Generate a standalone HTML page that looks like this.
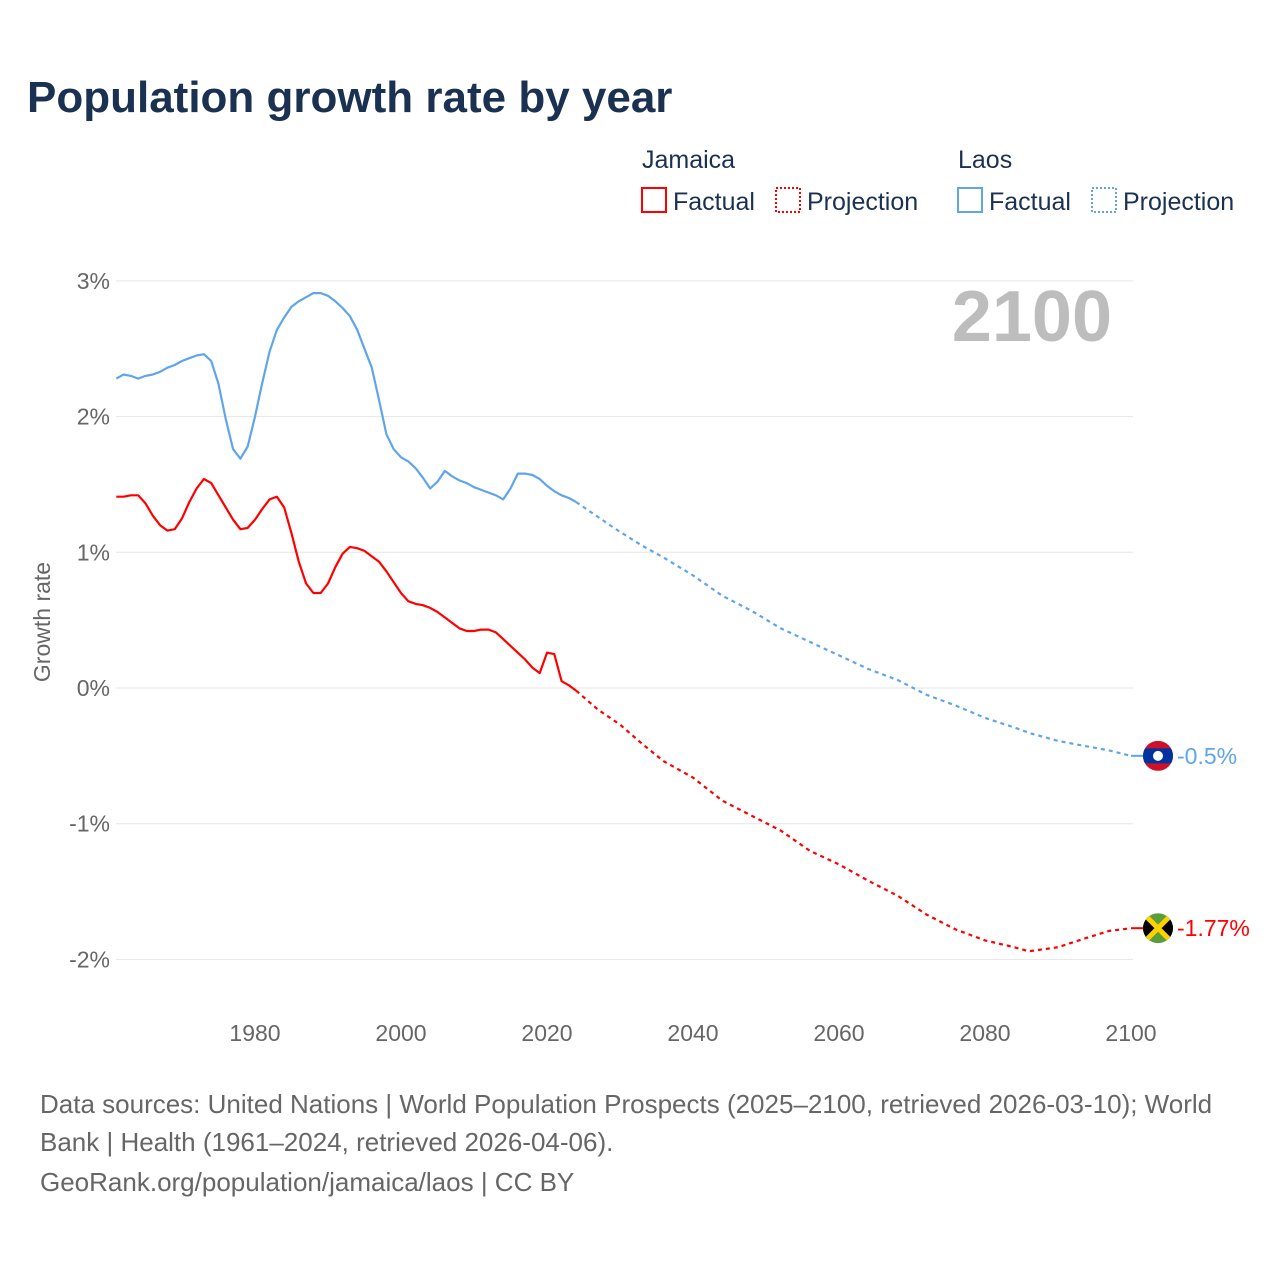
<!DOCTYPE html>
<html><head><meta charset="utf-8">
<style>
body{margin:0;background:#fff;font-family:"Liberation Sans",sans-serif;}
svg text{font-family:"Liberation Sans",sans-serif;}
</style></head>
<body>
<svg id="chart" width="1280" height="1280" viewBox="0 0 1280 1280" xmlns="http://www.w3.org/2000/svg">
<rect width="1280" height="1280" fill="#fff"/>
<text x="27" y="112" font-size="44" font-weight="bold" fill="#1b3152">Population growth rate by year</text>
<g font-size="25" fill="#1b3152">
 <text x="642" y="168">Jamaica</text>
 <text x="958" y="168">Laos</text>
 <g><rect x="642" y="188" width="24" height="24" fill="none" stroke="#ff0000" stroke-width="2"/><text x="673" y="210">Factual</text></g>
 <g><rect x="776" y="188" width="24" height="24" fill="none" stroke="#ff0000" stroke-width="2" stroke-dasharray="2,2"/><text x="807" y="210">Projection</text></g>
 <g><rect x="958" y="188" width="24" height="24" fill="none" stroke="#5ea5ec" stroke-width="2"/><text x="989" y="210">Factual</text></g>
 <g><rect x="1092" y="188" width="24" height="24" fill="none" stroke="#5ea5ec" stroke-width="2" stroke-dasharray="2,2"/><text x="1123" y="210">Projection</text></g>
</g>
<g id="grid"></g>
<g id="marks"></g>
<text x="1112" y="341" text-anchor="end" font-size="72" font-weight="bold" fill="#bdbdbd">2100</text>
<text transform="translate(50,622) rotate(-90)" text-anchor="middle" font-size="23" fill="#666">Growth rate</text>
<g font-size="26" fill="#666">
 <text x="40" y="1113">Data sources: United Nations | World Population Prospects (2025–2100, retrieved 2026-03-10); World</text>
 <text x="40" y="1151">Bank | Health (1961–2024, retrieved 2026-04-06).</text>
 <text x="40" y="1191">GeoRank.org/population/jamaica/laos | CC BY</text>
</g>
</svg>
<script>
const yTicks=[3,2,1,0,-1,-2];
const yTickLabels=["3%","2%","1%","0%","-1%","-2%"];
const xTicks=[1980,2000,2020,2040,2060,2080,2100];
const factYears=[];for(let y=1961;y<=2024;y++)factYears.push(y);
const laosFact=[2.28,2.31,2.30,2.28,2.30,2.31,2.33,2.36,2.38,2.41,2.43,2.45,2.46,2.41,2.24,1.98,1.76,1.69,1.78,2.00,2.25,2.48,2.64,2.73,2.81,2.85,2.88,2.91,2.91,2.89,2.85,2.80,2.74,2.64,2.50,2.36,2.12,1.87,1.76,1.70,1.67,1.62,1.55,1.47,1.52,1.60,1.56,1.53,1.51,1.48,1.46,1.44,1.42,1.39,1.47,1.58,1.58,1.57,1.54,1.49,1.45,1.42,1.40,1.37];
const jamFact=[1.41,1.41,1.42,1.42,1.36,1.27,1.20,1.16,1.17,1.25,1.37,1.47,1.54,1.51,1.42,1.33,1.24,1.17,1.18,1.24,1.32,1.39,1.41,1.33,1.14,0.93,0.77,0.70,0.70,0.77,0.89,0.99,1.04,1.03,1.01,0.97,0.93,0.86,0.78,0.70,0.64,0.62,0.61,0.59,0.56,0.52,0.48,0.44,0.42,0.42,0.43,0.43,0.41,0.36,0.31,0.26,0.21,0.15,0.11,0.26,0.25,0.05,0.02,-0.02];
const projYears=[2024,2027,2030,2033,2036,2040,2044,2048,2052,2056,2060,2064,2068,2072,2076,2080,2084,2086,2090,2094,2097,2100];
const laosProj=[1.37,1.26,1.15,1.05,0.96,0.83,0.68,0.57,0.44,0.34,0.24,0.14,0.06,-0.05,-0.13,-0.22,-0.29,-0.33,-0.39,-0.43,-0.46,-0.50];
const jamProj=[-0.02,-0.16,-0.27,-0.41,-0.54,-0.66,-0.83,-0.94,-1.05,-1.20,-1.30,-1.42,-1.53,-1.67,-1.78,-1.86,-1.91,-1.94,-1.91,-1.84,-1.79,-1.77];
const xS=v=>116.3+(v-1961)*7.3;
const yS=v=>688-v*135.7;
const NS="http://www.w3.org/2000/svg";
const grid=document.getElementById('grid'),marks=document.getElementById('marks');
function mk(tag,at,parent){const e=document.createElementNS(NS,tag);for(const k in at)e.setAttribute(k,at[k]);parent.appendChild(e);return e;}
yTicks.forEach((t,i)=>{
 const l=mk('line',{x1:116,x2:1133,y1:yS(t),y2:yS(t),stroke:'#e6e6e6','stroke-width':1},grid);
 
 
 const tx=mk('text',{x:110,y:yS(t)+8,'text-anchor':'end','font-size':23,fill:'#666'},grid);
 tx.textContent=yTickLabels[i];
 
 
});
xTicks.forEach(t=>{
 const tx=mk('text',{x:xS(t),y:1041,'text-anchor':'middle','font-size':23,fill:'#666'},grid);
 tx.textContent=t;
 
 
});
function line(xs,ys,color,dash,name){
 const d=xs.map((x,i)=>(i?'L':'M')+xS(x).toFixed(1)+','+yS(ys[i]).toFixed(1)).join(' ');
 const p=mk('path',{d:d,fill:'none',stroke:color,'stroke-width':2.2,'stroke-dasharray':dash||'none','stroke-linejoin':'round'},marks);
 
 
}
line(factYears,laosFact,'#5ea5ec',null,'laos-factual-line');
line(projYears,laosProj,'#5ea5ec','4,4','laos-projection-line');
line(factYears,jamFact,'#ff0000',null,'jamaica-factual-line');
line(projYears,jamProj,'#ff0000','4,4','jamaica-projection-line');
const lx=xS(2100)+27;
const ly=yS(laosProj[laosProj.length-1]);
const jy=yS(jamProj[jamProj.length-1]);
mk('line',{x1:xS(2100),x2:lx-15,y1:ly,y2:ly,stroke:'#5ea5ec','stroke-width':2},marks);
mk('line',{x1:xS(2100),x2:lx-15,y1:jy,y2:jy,stroke:'#ff0000','stroke-width':2},marks);
const lf=mk('g',{},marks);


const cl=mk('clipPath',{id:'cl'},lf);mk('circle',{cx:lx,cy:ly,r:15},cl);
const lg=mk('g',{'clip-path':'url(#cl)'},lf);
mk('rect',{x:lx-15,y:ly-15,width:30,height:30,fill:'#ce1126'},lg);
mk('rect',{x:lx-15,y:ly-7.5,width:30,height:15,fill:'#0033a0'},lg);
mk('circle',{cx:lx,cy:ly,r:5,fill:'#fff'},lg);
const jf=mk('g',{},marks);


const cj=mk('clipPath',{id:'cj'},jf);mk('circle',{cx:lx,cy:jy,r:15},cj);
const jg=mk('g',{'clip-path':'url(#cj)'},jf);
mk('rect',{x:lx-15,y:jy-15,width:30,height:30,fill:'#5a9e3a'},jg);
mk('polygon',{points:`${lx-15},${jy-15} ${lx},${jy} ${lx-15},${jy+15}`,fill:'#000'},jg);
mk('polygon',{points:`${lx+15},${jy-15} ${lx},${jy} ${lx+15},${jy+15}`,fill:'#000'},jg);
mk('line',{x1:lx-15,y1:jy-15,x2:lx+15,y2:jy+15,stroke:'#fed100','stroke-width':5},jg);
mk('line',{x1:lx-15,y1:jy+15,x2:lx+15,y2:jy-15,stroke:'#fed100','stroke-width':5},jg);
const t1=mk('text',{x:lx+19,y:ly+8,'font-size':23,fill:'#5ea5ec'},marks);
t1.textContent=laosProj[laosProj.length-1]+'%';


const t2=mk('text',{x:lx+19,y:jy+8,'font-size':23,fill:'#ff0000'},marks);
t2.textContent=jamProj[jamProj.length-1]+'%';


</script>
</body></html>
